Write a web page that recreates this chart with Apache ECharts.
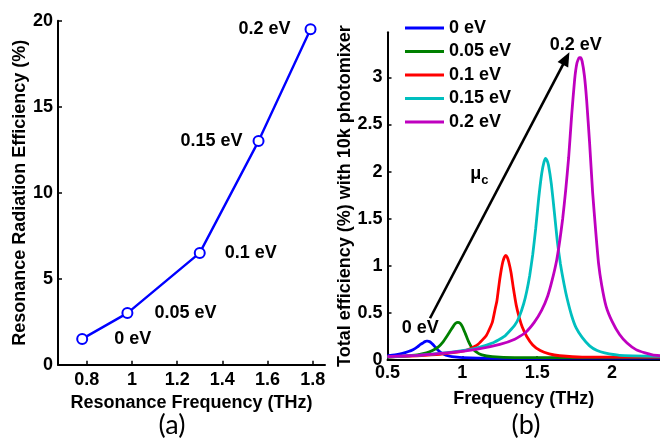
<!DOCTYPE html>
<html>
<head>
<meta charset="utf-8">
<script src="https://cdn.jsdelivr.net/npm/echarts@6/dist/echarts.min.js"></script>
<style>
  html, body { margin: 0; padding: 0; background: #fff; }
  #chart { width: 660px; height: 440px; }
</style>
</head>
<body>
<div id="chart"></div>
<script>
// (a) resonance radiation efficiency vs resonance frequency for each chemical potential
const muLabels = ['0 eV', '0.05 eV', '0.1 eV', '0.15 eV', '0.2 eV'];
const resFreq = [0.78, 0.98, 1.30, 1.56, 1.79];
const resEff = [1.5, 3.0, 6.5, 13.0, 19.5];

// tick labels
const aXTicks = [0.8, 1, 1.2, 1.4, 1.6, 1.8];
const aYTicks = [0, 5, 10, 15, 20];
const bXTicks = [0.5, 1, 1.5, 2];
const bYTicks = [0, 0.5, 1, 1.5, 2, 2.5, 3];

// (b) total efficiency spectra with a 10k photomixer
const freq0 = [0.50, 0.55, 0.60, 0.64, 0.67, 0.70, 0.72, 0.74, 0.75, 0.76, 0.77, 0.78, 0.79, 0.80, 0.82, 0.84, 0.86, 0.89, 0.93, 1.00, 1.20, 1.50, 1.80, 2.32];
const eff0  = [0.045, 0.055, 0.07, 0.09, 0.11, 0.14, 0.165, 0.185, 0.195, 0.20, 0.20, 0.195, 0.185, 0.17, 0.135, 0.10, 0.075, 0.05, 0.035, 0.025, 0.018, 0.018, 0.02, 0.02];

const freq1 = [0.50, 0.60, 0.70, 0.76, 0.80, 0.84, 0.87, 0.90, 0.92, 0.94, 0.955, 0.97, 0.985, 1.00, 1.02, 1.04, 1.06, 1.09, 1.13, 1.20, 1.35, 1.60, 2.32];
const eff1  = [0.03, 0.04, 0.055, 0.075, 0.10, 0.14, 0.19, 0.26, 0.31, 0.36, 0.39, 0.40, 0.39, 0.355, 0.28, 0.20, 0.14, 0.09, 0.055, 0.035, 0.025, 0.025, 0.03];

const freq2 = [0.50, 0.70, 0.85, 0.95, 1.03, 1.10, 1.16, 1.20, 1.22, 1.23, 1.24, 1.25, 1.26, 1.27, 1.28, 1.29, 1.30, 1.31, 1.325, 1.34, 1.36, 1.38, 1.40, 1.43, 1.47, 1.52, 1.58, 1.65, 1.80, 2.32];
const eff2  = [0.03, 0.045, 0.06, 0.08, 0.105, 0.16, 0.26, 0.40, 0.55, 0.62, 0.74, 0.86, 0.96, 1.04, 1.09, 1.11, 1.09, 1.04, 0.93, 0.77, 0.58, 0.45, 0.35, 0.25, 0.16, 0.10, 0.065, 0.045, 0.03, 0.03];

const freq3 = [0.50, 0.70, 0.85, 1.00, 1.10, 1.20, 1.28, 1.35, 1.38, 1.41, 1.43, 1.45, 1.47, 1.49, 1.51, 1.53, 1.545, 1.556, 1.565, 1.575, 1.595, 1.615, 1.635, 1.655, 1.68, 1.70, 1.73, 1.76, 1.80, 1.85, 1.90, 1.95, 2.05, 2.32];
const eff3  = [0.03, 0.05, 0.07, 0.10, 0.13, 0.18, 0.25, 0.37, 0.46, 0.60, 0.73, 0.90, 1.12, 1.40, 1.72, 1.98, 2.10, 2.14, 2.12, 2.07, 1.86, 1.56, 1.25, 1.02, 0.80, 0.65, 0.47, 0.34, 0.24, 0.15, 0.10, 0.075, 0.05, 0.04];

const freq4 = [0.50, 0.70, 0.90, 1.10, 1.25, 1.35, 1.42, 1.48, 1.53, 1.57, 1.60, 1.63, 1.65, 1.67, 1.69, 1.71, 1.73, 1.75, 1.765, 1.78, 1.79, 1.80, 1.815, 1.83, 1.85, 1.87, 1.89, 1.91, 1.93, 1.96, 2.00, 2.05, 2.10, 2.16, 2.22, 2.27, 2.32];
const eff4  = [0.035, 0.05, 0.075, 0.115, 0.165, 0.22, 0.29, 0.40, 0.53, 0.68, 0.85, 1.06, 1.26, 1.50, 1.80, 2.15, 2.60, 2.98, 3.15, 3.21, 3.21, 3.17, 3.02, 2.76, 2.30, 1.78, 1.38, 1.02, 0.80, 0.57, 0.41, 0.27, 0.18, 0.11, 0.075, 0.055, 0.045];

const spectra = [
  { name: muLabels[0], f: freq0, e: eff0, color: '#0000FF' },
  { name: muLabels[1], f: freq1, e: eff1, color: '#008000' },
  { name: muLabels[2], f: freq2, e: eff2, color: '#FF0000' },
  { name: muLabels[3], f: freq3, e: eff3, color: '#00BFBF' },
  { name: muLabels[4], f: freq4, e: eff4, color: '#BF00BF' }
];

// arrow showing increasing chemical potential, and its text
const arrowFrom = [0.784, 0.443];
const arrowTo = [1.693, 3.20];
const notes = [
  { at: [0.719, 0.34], text: '0 eV' },
  { at: [1.758, 3.34], text: '0.2 eV' },
  { at: [1.114, 1.97], text: '{m|μ}{s|c}' }
];

const FONT = 'Liberation Sans, Arial, sans-serif';
const bold18 = { fontFamily: FONT, fontSize: 18, fontWeight: 'bold', color: '#000' };

// per-point label placement in panel (a)
const aLabelPos = ['right', 'right', 'right', 'left', 'left'];
const aLabelDist = [26, 21, 19, 10, 14];

function axisCommon(ticks, margin) {
  return {
    axisLine: { onZero: false, lineStyle: { color: '#000', width: 2 } },
    axisTick: { inside: true, length: 4, lineStyle: { color: '#000', width: 1.5 }, customValues: ticks },
    axisLabel: { ...bold18, margin: margin, customValues: ticks },
    splitLine: { show: false }
  };
}

const chart = echarts.init(document.getElementById('chart'), null, { renderer: 'canvas' });

chart.setOption({
  animation: false,
  backgroundColor: '#fff',
  grid: [
    { left: 58, right: 335, top: 20.7, bottom: 75.3 },
    { left: 387.5, right: -8, top: 32.2, bottom: 80 }
  ],
  xAxis: [
    {
      gridIndex: 0, type: 'value', min: 0.673, max: 1.854,
      name: 'Resonance Frequency (THz)', nameLocation: 'middle', nameGap: 27,
      nameTextStyle: bold18,
      ...axisCommon(aXTicks, 6)
    },
    {
      gridIndex: 1, type: 'value', min: 0.5, max: 2.32,
      name: 'Frequency (THz)', nameLocation: 'middle', nameGap: 30,
      nameTextStyle: bold18,
      ...axisCommon(bXTicks, 4)
    }
  ],
  yAxis: [
    {
      gridIndex: 0, type: 'value', min: 0, max: 20,
      name: 'Resonance Radiation Efficiency (%)', nameLocation: 'middle', nameGap: 26, nameRotate: 90,
      nameTextStyle: bold18,
      ...axisCommon(aYTicks, 5)
    },
    {
      gridIndex: 1, type: 'value', min: 0, max: 3.48,
      name: 'Total efficiency (%) with 10k photomixer', nameLocation: 'middle', nameGap: 32.5, nameRotate: 90,
      nameTextStyle: bold18,
      ...axisCommon(bYTicks, 5)
    }
  ],
  legend: {
    data: muLabels,
    orient: 'vertical',
    left: 405, top: 19,
    icon: 'rect',
    itemWidth: 39, itemHeight: 3, itemGap: 5.5,
    padding: 0,
    textStyle: bold18,
    selectedMode: false
  },
  graphic: [
    { type: 'text', x: 172, y: 425, style: { text: '(a)', font: '27px Lato, sans-serif', fill: '#000', textAlign: 'center', textVerticalAlign: 'middle' } },
    { type: 'text', x: 526, y: 425, style: { text: '(b)', font: '27px Lato, sans-serif', fill: '#000', textAlign: 'center', textVerticalAlign: 'middle' } }
  ],
  series: [
    {
      name: 'resonance',
      type: 'line',
      xAxisIndex: 0, yAxisIndex: 0,
      data: resFreq.map((f, i) => ({
        value: [f, resEff[i]],
        label: { position: aLabelPos[i], distance: aLabelDist[i], formatter: muLabels[i] }
      })),
      symbol: 'emptyCircle', symbolSize: 10,
      itemStyle: { color: '#0000FF', borderWidth: 2.2 },
      lineStyle: { color: '#0000FF', width: 2.4 },
      label: { show: true, ...bold18 },
      silent: true
    },
    ...spectra.map(s => ({
      name: s.name,
      type: 'line',
      xAxisIndex: 1, yAxisIndex: 1,
      data: s.f.map((f, i) => [f, s.e[i]]),
      symbol: 'none',
      smooth: 0.15,
      color: s.color,
      itemStyle: { color: s.color },
      lineStyle: { color: s.color, width: 2.8 },
      silent: true
    })),
    {
      name: 'annotations',
      type: 'line',
      xAxisIndex: 1, yAxisIndex: 1,
      data: [],
      silent: true,
      markLine: {
        silent: true,
        symbol: ['none', 'triangle'],
        symbolSize: [12, 14],
        label: { show: false },
        lineStyle: { color: '#000', width: 2.6, type: 'solid' },
        data: [[{ coord: arrowFrom }, { coord: arrowTo }]]
      },
      markPoint: {
        silent: true,
        symbol: 'circle', symbolSize: 1,
        itemStyle: { color: 'rgba(0,0,0,0)' },
        label: {
          show: true, position: 'inside', ...bold18,
          rich: {
            m: { ...bold18 },
            s: { fontFamily: FONT, fontSize: 13, fontWeight: 'bold', color: '#000', padding: [12, 0, 0, 0] }
          }
        },
        data: notes.map(n => ({ coord: n.at, label: { formatter: n.text } }))
      }
    }
  ]
});
</script>
</body>
</html>
